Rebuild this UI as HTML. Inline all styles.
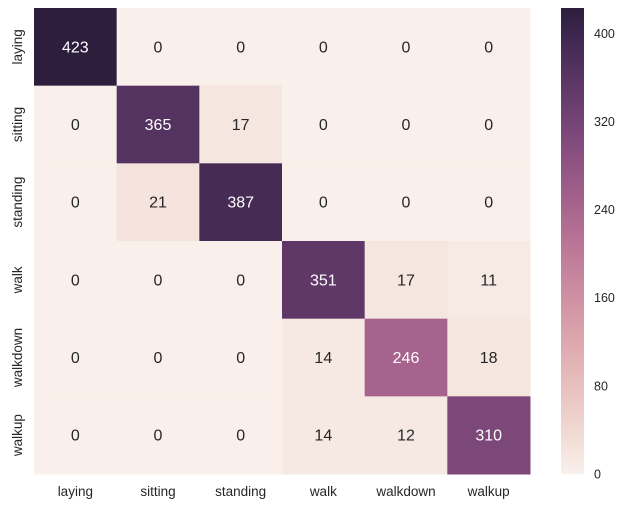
<!DOCTYPE html>
<html><head><meta charset="utf-8"><style>
body{margin:0;background:#fff;}
svg text{font-family:"Liberation Sans",sans-serif;}
</style></head><body>
<svg id="c" width="626" height="508"></svg>
<script>
const rowLabels=["laying","sitting","standing","walk","walkdown","walkup"];
const colLabels=["laying","sitting","standing","walk","walkdown","walkup"];
const matrix=[
[423,0,0,0,0,0],
[0,365,17,0,0,0],
[0,21,387,0,0,0],
[0,0,0,351,17,11],
[0,0,0,14,246,18],
[0,0,0,14,12,310]];
const cbTicks=[0,80,160,240,320,400];
const vmin=0, vmax=423;
const L=34,T=8,R=530,B=474,cbX=561,cbW=23;
const NS="http://www.w3.org/2000/svg";
const svg=document.getElementById('c');
function el(t,a,p){const e=document.createElementNS(NS,t);for(const k in a)e.setAttribute(k,a[k]);(p||svg).appendChild(e);return e;}
function cmap(v){
  const t=Math.max(0,Math.min(1,(v-vmin)/(vmax-vmin)));
  const x=0.95+(0.15-0.95)*t;
  const a=0.8*x*(1-x)/2, phi=2*Math.PI*(0/3+0.4*x);
  const c=Math.cos(phi),s=Math.sin(phi);
  const cl=q=>Math.max(0,Math.min(1,q));
  const r=cl(x+a*(-0.14861*c+1.78277*s)), g=cl(x+a*(-0.29227*c-0.90649*s)), b=cl(x+a*(1.97294*c));
  const f=q=>Math.round(q*255);
  const lin=q=>q<=0.03928?q/12.92:Math.pow((q+0.055)/1.055,2.4);
  return {css:`rgb(${f(r)},${f(g)},${f(b)})`,lum:0.2126*lin(r)+0.7152*lin(g)+0.0722*lin(b)};
}
const cw=(R-L)/colLabels.length, ch=(B-T)/rowLabels.length;
const xs=j=>L+j*cw, ys=i=>T+i*ch;
matrix.forEach((row,i)=>row.forEach((v,j)=>{
  const col=cmap(v);
  const r=el('rect',{x:xs(j),y:ys(i),width:cw+0.5,height:ch+0.5,fill:col.css});
  
  
  const t=el('text',{x:xs(j)+cw/2,y:ys(i)+ch/2+5.5,'text-anchor':'middle','font-size':16,fill:col.lum>0.408?'#262626':'#fff'});
  t.textContent=v;
  
  
}));
rowLabels.forEach((lab,i)=>{
  const cy=ys(i)+ch/2;
  const t=el('text',{x:0,y:0,transform:`translate(22,${cy}) rotate(-90)`,'text-anchor':'middle','font-size':13.5,fill:'#262626'});
  t.textContent=lab;
  
  
});
colLabels.forEach((lab,j)=>{
  const t=el('text',{x:xs(j)+cw/2,y:496,'text-anchor':'middle','font-size':13.5,fill:'#262626'});
  t.textContent=lab;
  
  
});
const defs=el('defs',{});
const lg=el('linearGradient',{id:'g',x1:0,y1:1,x2:0,y2:0},defs);
for(let k=0;k<=20;k++){el('stop',{offset:k/20,'stop-color':cmap(vmin+(vmax-vmin)*k/20).css},lg);}
const cb=el('rect',{x:cbX,y:T,width:cbW,height:B-T,fill:'url(#g)'});


const cy=v=>B-(v-vmin)/(vmax-vmin)*(B-T);
cbTicks.forEach(v=>{
  const t=el('text',{x:cbX+cbW+10,y:cy(v)+4.5,'font-size':12.5,fill:'#262626'});
  t.textContent=v;
  
  
});
</script>
</body></html>
